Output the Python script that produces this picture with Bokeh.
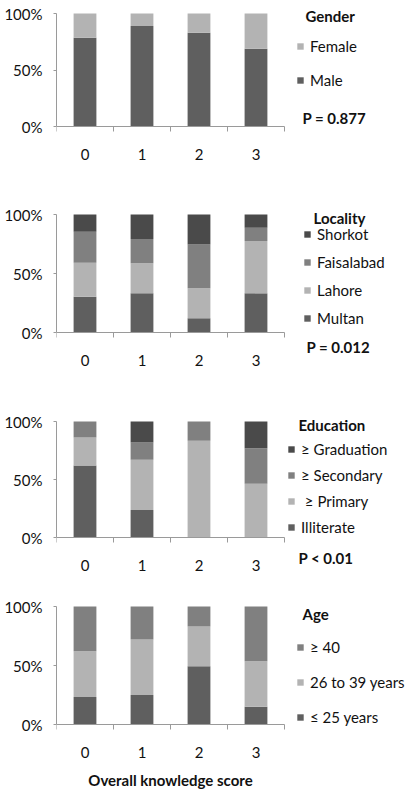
from bokeh.plotting import figure
from bokeh.models import Range1d, FixedTicker, Legend, LegendItem, Label, ColumnDataSource
from bokeh.layouts import column
from bokeh.embed import file_html
from bokeh.resources import INLINE

categories = ["0", "1", "2", "3"]
y_ticks = [0, 50, 100]
y_tick_labels = ["0%", "50%", "100%"]

# Gender (%)
gender_male = [78.5, 89.0, 83.0, 68.7]
gender_female = [21.5, 11.0, 17.0, 31.3]
# Locality (%)
locality_multan = [30.4, 33.2, 12.1, 33.2]
locality_lahore = [28.8, 25.4, 25.4, 44.3]
locality_faisalabad = [26.2, 20.6, 37.1, 11.2]
locality_shorkot = [14.6, 20.8, 25.4, 11.3]
# Education (%)
edu_illiterate = [62.1, 23.6, 0.0, 0.0]
edu_primary = [24.1, 43.4, 83.3, 46.3]
edu_secondary = [13.8, 14.9, 16.7, 30.7]
edu_graduation = [0.0, 18.1, 0.0, 23.0]
# Age (%)
age_le25 = [23.4, 24.9, 49.4, 15.0]
age_26_39 = [38.7, 47.1, 33.7, 38.7]
age_ge40 = [37.9, 28.0, 16.9, 46.3]

FONT = "Lato"
DARK = "#5f5f5f"
LIGHT = "#b3b3b3"
MID = "#808080"
DARKEST = "#4a4a4a"
AXIS = "#9a9a9a"
TXT = "#111111"

W = 405
LEFT = 56
PLOT_W = 228  # pixel width of the category area (0..4)


def bold_label(p, height, xy, text):
    # xy: (px from frame left, px from figure top)
    p.add_layout(Label(x=xy[0], y=height - xy[1], x_units="screen",
                       y_units="screen", text=text,
                       text_font=FONT, text_font_size="15px",
                       text_font_style="bold", text_color=TXT,
                       text_baseline="middle", text_align="left"))


def panel(series, title, title_xy, p_text, height, top, plot_h, leg_x,
          leg_bottom, spacing, p_xy=None, xlabel=None):
    n = len(categories)
    positions = [i + 0.5 for i in range(n)]
    data = {"x": positions}
    names, colors = [], []
    for name, vals, col in series:
        data[name] = vals
        names.append(name)
        colors.append(col)
    src = ColumnDataSource(data)

    frame_w = W - LEFT
    x_end = n * frame_w / PLOT_W
    k = plot_h / 100.0
    y_end = 100 + top / k
    y_start = -(height - top - plot_h) / k

    p = figure(width=W, height=height, x_range=Range1d(0, x_end),
               y_range=Range1d(y_start, y_end), output_backend="svg",
               toolbar_location=None, min_border_left=LEFT,
               min_border_right=0, min_border_top=0, min_border_bottom=0)
    rs = p.vbar_stack(names, x="x", width=0.4, color=colors, line_color=None,
                      source=src)
    p.xgrid.visible = False
    p.ygrid.visible = False
    p.outline_line_color = None
    p.background_fill_color = "white"
    p.border_fill_color = "white"

    xa = p.xaxis[0]
    xa.fixed_location = 0
    xa.bounds = (0, n)
    xa.ticker = FixedTicker(ticks=positions, minor_ticks=list(range(n + 1)))
    xa.major_label_overrides = {pos: c for pos, c in zip(positions, categories)}
    xa.major_tick_out = 0
    xa.major_tick_in = 0
    xa.minor_tick_out = 5
    xa.minor_tick_in = 0
    xa.minor_tick_line_color = AXIS
    xa.axis_line_color = AXIS
    xa.major_label_standoff = 17
    xa.major_label_text_font = FONT
    xa.major_label_text_font_size = "15px"
    xa.major_label_text_color = TXT
    if xlabel:
        xa.axis_label = xlabel
        xa.axis_label_text_font = FONT
        xa.axis_label_text_font_size = "15px"
        xa.axis_label_text_font_style = "bold"
        xa.axis_label_text_color = TXT
        xa.axis_label_standoff = 10

    ya = p.yaxis[0]
    ya.bounds = (0, 100)
    ya.ticker = FixedTicker(ticks=y_ticks)
    ya.major_label_overrides = {t: l for t, l in zip(y_ticks, y_tick_labels)}
    ya.major_tick_out = 3
    ya.major_tick_in = 0
    ya.minor_tick_line_color = None
    ya.major_tick_line_color = AXIS
    ya.axis_line_color = AXIS
    ya.major_label_standoff = 11
    ya.major_label_text_font = FONT
    ya.major_label_text_font_size = "15px"
    ya.major_label_text_color = TXT

    order = list(range(len(names)))[::-1]
    items = [LegendItem(label=names[i], renderers=[rs[i]]) for i in order]
    leg = Legend(items=items, location=(leg_x, height - leg_bottom),
                 label_text_font=FONT, label_text_font_size="15px",
                 label_text_color=TXT,
                 label_height=16, glyph_height=8, glyph_width=8,
                 label_standoff=6, spacing=spacing, padding=0, margin=0,
                 border_line_color=None, background_fill_alpha=0)
    p.add_layout(leg)
    bold_label(p, height, title_xy, title)
    if p_text:
        bold_label(p, height, p_xy, p_text)
    return p


p1 = panel([("Male", gender_male, DARK), ("Female", gender_female, LIGHT)],
           "Gender", (249, 15), "P = 0.877", 195, 13, 113, 240, 89, 16,
           p_xy=(246, 117))
p2 = panel([("Multan", locality_multan, DARK),
            ("Lahore", locality_lahore, LIGHT),
            ("Faisalabad", locality_faisalabad, MID),
            ("Shorkot", locality_shorkot, DARKEST)],
           "Locality", (257, 22.7), "P = 0.012", 205, 19, 118, 247, 132, 10,
           p_xy=(250, 151.7))
p3 = panel([("Illiterate", edu_illiterate, DARK),
            (" \u2265 Primary", edu_primary, LIGHT),
            ("\u2265 Secondary", edu_secondary, MID),
            ("\u2265 Graduation", edu_graduation, DARKEST)],
           "Education", (242, 24), "P < 0.01", 185, 21, 116, 231, 136, 8,
           p_xy=(242, 157))
p4 = panel([("\u2264 25 years", age_le25, DARK),
            ("26 to 39 years", age_26_39, LIGHT),
            ("\u2265 40", age_ge40, MID)],
           "Age", (246, 28), None, 204, 21, 118, 240, 141, 17,
           xlabel="Overall knowledge score")

layout = column(p1, p2, p3, p4, spacing=0)
open("out.html", "w").write(file_html(layout, INLINE))
